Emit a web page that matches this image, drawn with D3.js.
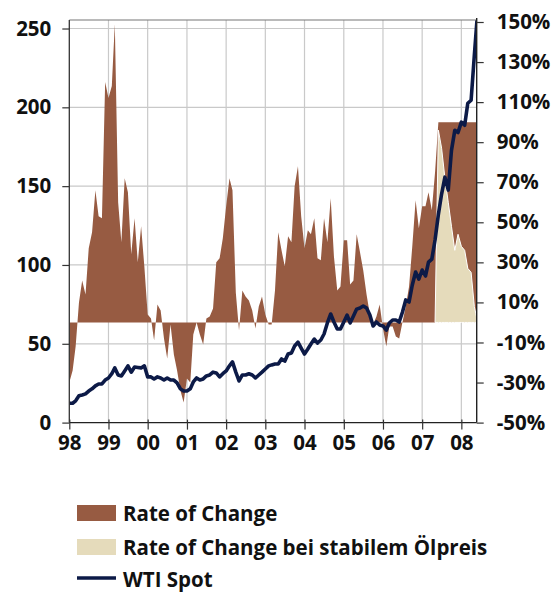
<!DOCTYPE html>
<html><head><meta charset="utf-8">
<script src="https://cdn.jsdelivr.net/npm/d3@7"></script>
<style>
html,body{margin:0;padding:0;background:#fff;}
text{font-family:"Open Sans","Liberation Sans",sans-serif;font-weight:700;fill:#111;}
</style></head>
<body><svg id="c" width="552" height="592"></svg>
<script>
// ---- data ----
const startYear = 1998; // first month = Jan 1998, monthly series
const yearLabels = ["98","99","00","01","02","03","04","05","06","07","08"];
const leftTicks = [0,50,100,150,200,250];
const rightTicks = [-50,-30,-10,10,30,50,70,90,110,130,150];
const seriesNames = ["Rate of Change","Rate of Change bei stabilem Ölpreis","WTI Spot"];

// Rate of Change (%), Jan 1998 .. Jun 2008
const rateOfChange = [
 -30,-24,-12,10,21,14,37,45,66,53,52,120,
 112,118,149,60,40,72,65,34,52,30,48,28,
 4,2,-9,9,6,-8,-18,-1,-16,-24,-34,-40,
 -28,-30,-6,0,-6,-11,2,3,7,30,32,42,
 58,72,66,15,-4,16,13,11,6,-3,8,13,
 4,-1,-1,16,45,36,28,43,40,68,78,53,
 37,46,44,52,32,31,52,40,62,33,16,18,
 41,41,19,21,44,35,26,14,4,-1,3,9,
 -3,-12,-2,-2,-7,-8,0,8,18,38,61,47,
 58,58,65,56,75,100,100,100,100,100,100,100,
 100,100,100,100,100,100
];
// Rate of Change bei stabilem Ölpreis (%), May 2007 .. Jun 2008
const stableStart = 112;
const rateStableOil = [0,96,87,72,60,48,36,44,38,36,27,25,8,0];

// WTI Spot, Jan 1998 .. Jun 2008
const wtiSpot = [
 12.3,12.3,13.8,17,17.5,18.2,20,21.4,23.3,24.5,24.5,27,
 28.3,31,34.7,30.2,29.6,32.8,36,32,35.3,35,34.7,36,
 29,29,27.7,29,28.3,27,28.3,27,27,25.2,21.4,20,
 20,21.4,25.8,28.3,27,27.7,29.6,30.2,32,31.5,29,31,
 32.8,36,38.5,32,26.4,30.2,30.2,31,30.2,28.3,30.2,32,
 34,36,36.6,37.2,37.2,40.4,39,43.5,44.2,48.6,51.1,47.3,
 43.5,46.7,49.9,53,50.5,52.4,56.2,63.2,68.9,63.8,59.4,59.4,
 63.8,68.2,63.2,67.6,72,72.7,74,72.7,68.2,61.3,63.8,61.9,
 61.3,58.7,63.2,65.1,65.1,63.8,70,77.8,76.5,87.3,95.5,91,
 96.8,93,101.8,103.7,115.8,132,145,155.7,147.5,172.7,185.4,184,
 190.6,188.6,202.6,204.5,233,261
];

// ---- layout ----
const svg = d3.select("#c");
const L = 69.3, R = 476.7, T = 20, B = 422.6;
const monthDate = i => new Date(startYear, i, 1);
const x = d3.scaleTime().domain([new Date(1998,0,1), new Date(2008,4,23)]).range([L, R]);
const yL = d3.scaleLinear().domain([0, 255.4]).range([B, T]);
const yR = d3.scaleLinear().domain([-50, 151]).range([B, T]);

const colBrown = "#975b42", colBeige = "#e5dbbb", colLine = "#0c1a47", colGrid = "#c9c9c9";

svg.append("defs").append("clipPath").attr("id","clip")
  .append("rect").attr("x",L).attr("y",T).attr("width",R-L).attr("height",B-T);

// grid
const g = svg.append("g");
g.selectAll("line.h").data(leftTicks.filter(d=>d>0)).join("line")
  .attr("x1",L).attr("x2",R).attr("y1",d=>yL(d)).attr("y2",d=>yL(d))
  .attr("stroke",colGrid).attr("stroke-width",1.2);
const yearDates = yearLabels.map((s,i)=>new Date(1998+i,0,1));
g.selectAll("line.v").data(yearDates.slice(1)).join("line")
  .attr("x1",d=>x(d)).attr("x2",d=>x(d)).attr("y1",T).attr("y2",B)
  .attr("stroke",colGrid).attr("stroke-width",1.2);

// areas
const plot = svg.append("g").attr("clip-path","url(#clip)");
const area = d3.area().x(d=>x(d.date)).y0(yR(0)).y1(d=>yR(d.v));
const rocData = rateOfChange.map((v,i)=>({date:monthDate(i), v}));
plot.append("path").datum(rocData).attr("d",area).attr("fill",colBrown);
const stData = rateStableOil.map((v,i)=>({date:monthDate(stableStart+i), v}));
plot.append("path").datum(stData).attr("d",area).attr("fill",colBeige)
  .attr("stroke","#fff").attr("stroke-width",1);

// line
const line = d3.line().x(d=>x(d.date)).y(d=>yL(d.v));
const wData = wtiSpot.map((v,i)=>({date:monthDate(i), v}));
plot.append("path").datum(wData).attr("d",line).attr("fill","none")
  .attr("stroke",colLine).attr("stroke-width",3.6).attr("stroke-linejoin","round");

// frame
svg.append("line").attr("x1",L).attr("x2",R).attr("y1",T).attr("y2",T).attr("stroke","#777").attr("stroke-width",1.2);

// left axis
const axL = svg.append("g").attr("transform",`translate(${L},0)`)
  .call(d3.axisLeft(yL).tickValues(leftTicks).tickSize(7).tickPadding(11));
axL.select(".domain").attr("d",`M0,${T}V${B}`).attr("stroke","#333").attr("stroke-width",1.3);
axL.selectAll(".tick line").attr("stroke","#333").attr("stroke-width",1.2);
axL.selectAll("text").style("font-size","20.5px").attr("fill","#111");

// right axis
const axR = svg.append("g").attr("transform",`translate(${R},0)`)
  .call(d3.axisRight(yR).tickValues(rightTicks).tickFormat(d=>d+"%").tickSize(7).tickPadding(13));
axR.select(".domain").attr("d",`M0,${T-2}V${B}`).attr("stroke","#222").attr("stroke-width",1.4);
axR.selectAll(".tick line").attr("stroke","#333").attr("stroke-width",1.2);
axR.selectAll("text").style("font-size","20.5px").attr("fill","#111");

// bottom axis
const axB = svg.append("g").attr("transform",`translate(0,${B})`)
  .call(d3.axisBottom(x).tickValues(yearDates).tickFormat((d,i)=>yearLabels[i]).tickSize(7).tickPadding(6));
axB.select(".domain").attr("d",`M${L},0H${R}`).attr("stroke","#222").attr("stroke-width",1.3);
axB.selectAll(".tick line").attr("y1",-3).attr("stroke","#333").attr("stroke-width",1.2);
axB.selectAll("text").style("font-size","20.5px").attr("fill","#111");

// legend
const lg = svg.append("g");
const items = [
  {name:seriesNames[0], type:"rect", color:colBrown, y:513},
  {name:seriesNames[1], type:"rect", color:colBeige, y:547},
  {name:seriesNames[2], type:"line", color:colLine, y:579}
];
items.forEach(it=>{
  if(it.type==="rect"){
    lg.append("rect").attr("x",77).attr("y",it.y-8).attr("width",39).attr("height",16).attr("fill",it.color);
  } else {
    lg.append("line").attr("x1",77).attr("x2",116).attr("y1",it.y-1).attr("y2",it.y-1)
      .attr("stroke",it.color).attr("stroke-width",3.5);
  }
  lg.append("text").attr("x",123).attr("y",it.y).attr("dominant-baseline","central")
    .style("font-size","20.5px").text(it.name);
});
</script></body></html>
